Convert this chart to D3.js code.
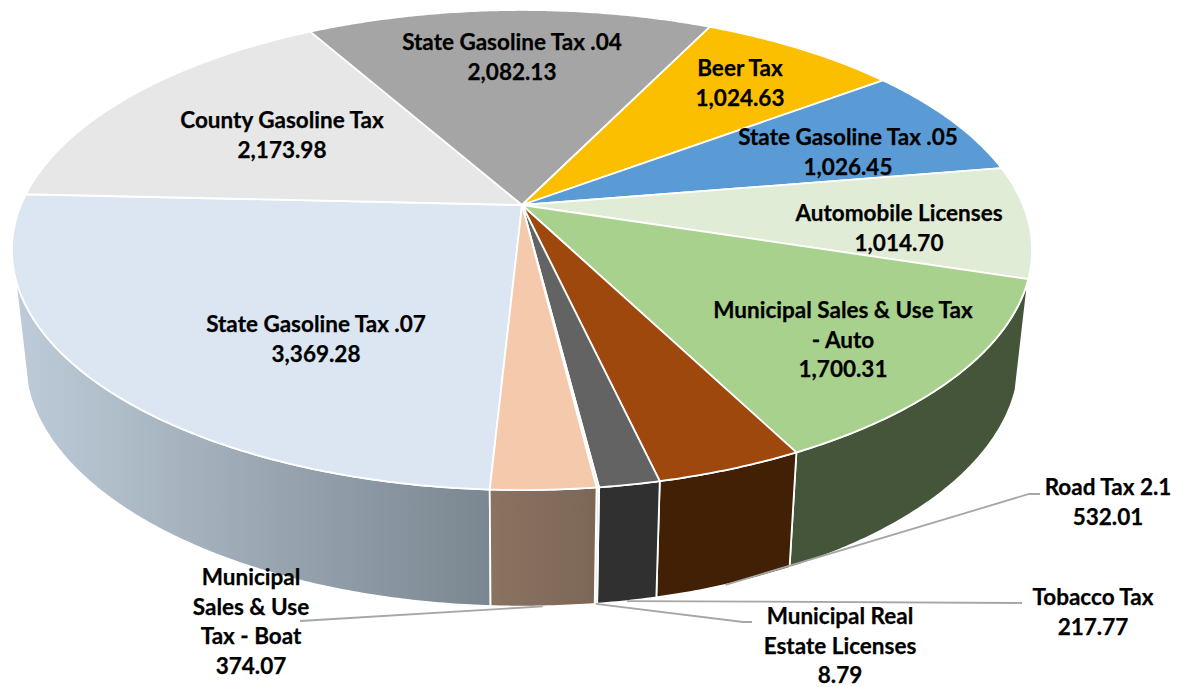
<!DOCTYPE html>
<html>
<head>
<meta charset="utf-8">
<title>Tax revenue pie</title>
<script src="https://cdn.jsdelivr.net/npm/d3@7"></script>
<style>
  html, body { margin: 0; background: #fff; }
  svg { display: block; }
  text { font-family: Lato, "Open Sans", sans-serif; font-weight: 700; font-size: 22.5px; fill: #000; stroke: #000; stroke-width: 0.25px; text-anchor: middle; }
</style>
</head>
<body>
<div id="chart"></div>
<script>
const W = 1188, H = 687;

// values as printed on the chart, clockwise from the bottom of the pie
const categories = [
  'State Gasoline Tax .07', 'County Gasoline Tax', 'State Gasoline Tax .04', 'Beer Tax',
  'State Gasoline Tax .05', 'Automobile Licenses', 'Municipal Sales & Use Tax - Auto',
  'Road Tax 2.1', 'Tobacco Tax', 'Municipal Real Estate Licenses', 'Municipal Sales & Use Tax - Boat'
];
const values = [3369.28, 2173.98, 2082.13, 1024.63, 1026.45, 1014.70, 1700.31, 532.01, 217.77, 8.79, 374.07];

const topColors = ['#dbe6f2', '#e7e7e7', '#a5a5a5', '#fcbf00', '#5b9bd5', '#e0ecd6', '#a9d18e', '#9e480e', '#636363', '#e4e4e4', '#f4c9ac'];
const wallColors = ['url(#wall-blue)', '#999', '#666', '#7a5c00', '#2f5d85', '#7c8a70', '#44553a', '#412006', '#303030', '#dcdcdc', 'url(#wall-boat)'];

// how each label is broken into lines, and where it sits
const labelLines = [
  ['State Gasoline Tax .07'], ['County Gasoline Tax'], ['State Gasoline Tax .04'], ['Beer Tax'],
  ['State Gasoline Tax .05'], ['Automobile Licenses'], ['Municipal Sales & Use Tax', '- Auto'],
  ['Road Tax 2.1'], ['Tobacco Tax'], ['Municipal Real', 'Estate Licenses'], ['Municipal', 'Sales & Use', 'Tax - Boat']
];
const labelX = [316, 282, 512, 740, 848, 899, 843, 1108, 1093, 840, 251];
const labelY = [332, 128, 50, 76, 145, 221, 318, 495, 605, 624, 585];
const LINE_H = 29.6;

// leader lines: elbow point and end point, only for the labels outside the pie
const leaders = [
  { i: 7,  elbow: [1029, 494], end: [1040, 494] },
  { i: 8,  elbow: [1022, 603], end: [1022, 603] },
  { i: 9,  elbow: [743, 622],  end: [752, 622] },
  { i: 10, elbow: [300, 621],  end: [300, 621] },
];

// perspective of the tilted disc, fitted on the picture
const P = { cx: 522, cy: 205, a: 501, b: 231.6, k: 0.1875, floorY: 313, floorX: 0.975, floorB: 1.03 };
const WALL_FROM = 107.6, WALL_TO = 253;
const rad = d => d * Math.PI / 180;

function project(angle, floor) {
  const u = Math.sin(angle), v = -Math.cos(angle);
  const d = 1 - P.k * v;
  const x = P.a * u / d, y = P.b * v / d;
  return floor
    ? [P.cx + x * P.floorX, P.floorY + y * P.floorB]
    : [P.cx + x, P.cy + y];
}

function arcPoints(a0, a1, floor) {
  const n = Math.max(2, Math.ceil(Math.abs(a1 - a0) / rad(0.5)));
  return d3.range(n + 1).map(i => project(a0 + (a1 - a0) * i / n, floor));
}

const pie = d3.pie().sort(null).value(d => d)
  .startAngle(rad(183)).endAngle(rad(183 + 360));
const slices = pie(values).map((s, i) => ({ ...s, i }));

const svg = d3.select('#chart').append('svg').attr('width', W).attr('height', H);
const line = d3.line();

const defs = svg.append('defs');
function wallGradient(id, x1, x2, c1, c2) {
  const g = defs.append('linearGradient').attr('id', id)
    .attr('gradientUnits', 'userSpaceOnUse')
    .attr('x1', x1).attr('x2', x2).attr('y1', 0).attr('y2', 0);
  g.append('stop').attr('offset', 0).attr('stop-color', c1);
  g.append('stop').attr('offset', 1).attr('stop-color', c2);
}
wallGradient('wall-blue', 20, 490, '#bdcbd8', '#7a8690');
wallGradient('wall-boat', 491, 596, '#8b7261', '#7c6757');

// side walls first, only the part that faces the viewer
const wallFrom = rad(WALL_FROM), wallTo = rad(WALL_TO);
const walls = slices.flatMap(s => {
  const out = [];
  [0, 2 * Math.PI].forEach(shift => {
    const a0 = Math.max(s.startAngle - shift, wallFrom);
    const a1 = Math.min(s.endAngle - shift, wallTo);
    if (a1 > a0) out.push({ i: s.i, a0, a1 });
  });
  return out;
});

svg.append('g').selectAll('path').data(walls).join('path')
  .attr('d', d => line([...arcPoints(d.a0, d.a1, false), ...arcPoints(d.a1, d.a0, true)]) + 'Z')
  .attr('fill', d => wallColors[d.i])
  .attr('stroke', '#fff').attr('stroke-width', 1.8).attr('stroke-linejoin', 'round');

// top of the disc
svg.append('g').selectAll('path').data(slices).join('path')
  .attr('d', d => line([[P.cx, P.cy], ...arcPoints(d.startAngle, d.endAngle, false)]) + 'Z')
  .attr('fill', d => topColors[d.i])
  .attr('stroke', '#fff').attr('stroke-width', 1.8).attr('stroke-linejoin', 'round');

// leaders start on the bottom rim at the middle of their slice
svg.append('g').selectAll('path').data(leaders).join('path')
  .attr('d', d => {
    const s = slices[d.i];
    return line([project((s.startAngle + s.endAngle) / 2, true), d.elbow, d.end]);
  })
  .attr('fill', 'none').attr('stroke', '#a6a6a6').attr('stroke-width', 1.8);

const fmtValue = d3.format(',.2f');
const labels = svg.append('g').selectAll('text').data(slices).join('text')
  .attr('x', d => labelX[d.i]).attr('y', d => labelY[d.i]);
labels.selectAll('tspan')
  .data(d => [...labelLines[d.i], fmtValue(d.value)].map(t => ({ t, i: d.i })))
  .join('tspan')
  .attr('x', d => labelX[d.i])
  .attr('dy', (d, j) => j ? LINE_H : 0)
  .text(d => d.t);
</script>
</body>
</html>
